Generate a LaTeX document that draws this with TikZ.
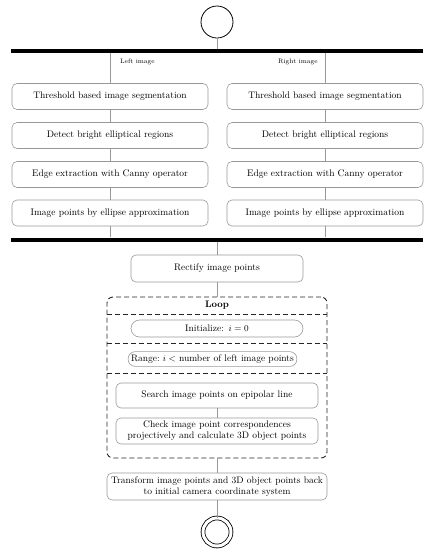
\documentclass[tikz,border=0pt]{standalone}
\usepackage{amsmath}

\tikzset{
	stepbox/.style={draw=gray!80, line width=0.6pt, rounded corners=5pt, minimum height=26pt, inner sep=2pt, align=center},
	pillbox/.style={draw=gray!80, line width=0.6pt, rounded corners=7pt, inner sep=1pt, align=center},
	bar/.style={fill=black, minimum width=412pt, minimum height=4pt, inner sep=0pt},
	flow/.style={draw=gray!80, line width=0.6pt},
	loopline/.style={draw=black!85, line width=0.9pt, dash pattern=on 5pt off 3pt},
	lane/.style={font=\fontsize{6.5}{7}\selectfont, anchor=west, inner sep=0pt}
}

\begin{document}
\begin{tikzpicture}[x=1pt, y=-1pt, every node/.style={font=\fontsize{9.5}{11}\selectfont}]
	\useasboundingbox (0,0) rectangle (437,550);
	% start, fork and join
	\node[draw, circle, minimum size=32pt, inner sep=0pt, line width=0.8pt] (start) at (217,22) {};
	\node[bar] (fork) at (217,50.7) {};
	\node[bar] (join) at (217,239.5) {};
	\draw[flow] (start) -- (fork);
	\node[lane] (leftlbl) at (120,62) {Left image};
	\node[lane] (rightlbl) at (278,62) {Right image};
	% both image branches
	\foreach \side/\x in {l/110, r/325} {
		\node[stepbox, minimum width=196pt] (\side1) at (\x,96.5) {Threshold based image segmentation};
		\node[stepbox, minimum width=196pt] (\side2) at (\x,135.5) {Detect bright elliptical regions};
		\node[stepbox, minimum width=196pt] (\side3) at (\x,174.5) {Edge extraction with Canny operator};
		\node[stepbox, minimum width=196pt] (\side4) at (\x,213) {Image points by ellipse approximation};
		\draw[flow] (\side1 |- fork.south) -- (\side1);
		\draw[flow] (\side1) -- (\side2);
		\draw[flow] (\side2) -- (\side3);
		\draw[flow] (\side3) -- (\side4);
		\draw[flow] (\side4) -- (\side4 |- join.north);
	}
	% rectification
	\node[stepbox, minimum width=172pt, minimum height=27pt] (rect) at (217,268.5) {Rectify image points};
	\draw[flow] (join) -- (rect);
	% loop
	\node[loopline, rounded corners=6pt, minimum width=220pt, minimum height=161pt, inner sep=0pt] (loop) at (217,377.5) {};
	\node (looptitle) at (217,305) {\textbf{Loop}};
	\draw[loopline] (loop.west |- 0,314) -- (loop.east |- 0,314);
	\draw[loopline] (loop.west |- 0,343) -- (loop.east |- 0,343);
	\draw[loopline] (loop.west |- 0,373) -- (loop.east |- 0,373);
	\node[pillbox, rounded corners=8.5pt, minimum width=172pt, minimum height=17pt] (init) at (217,328.5) {Initialize:\enspace$i=0$};
	\node[pillbox, minimum width=166pt, minimum height=14pt, inner sep=3pt] (range) at (212.5,359) {Range:\ $i<$\ number of left image points};
	\node[stepbox, minimum width=202pt, minimum height=25pt] (search) at (217,395.5) {Search image points on epipolar line};
	\node[stepbox, minimum width=202pt, minimum height=26pt, inner sep=1pt] (check) at (217,431) {Check image point correspondences\\projectively and calculate 3D object points};
	\draw[flow] (search) -- (check);
	\draw[flow] (rect) -- (loop);
	% back transformation and end
	\node[stepbox, minimum width=220pt, minimum height=27pt, inner sep=1pt] (transform) at (217,486.5) {Transform image points and 3D object points back\\to initial camera coordinate system};
	\draw[flow] (loop) -- (transform);
	\node[draw, circle, double, double distance=3pt, line width=0.8pt, minimum size=28pt, inner sep=0pt] (stop) at (217,532) {};
	\draw[flow] (transform) -- (stop);
\end{tikzpicture}
\end{document}
